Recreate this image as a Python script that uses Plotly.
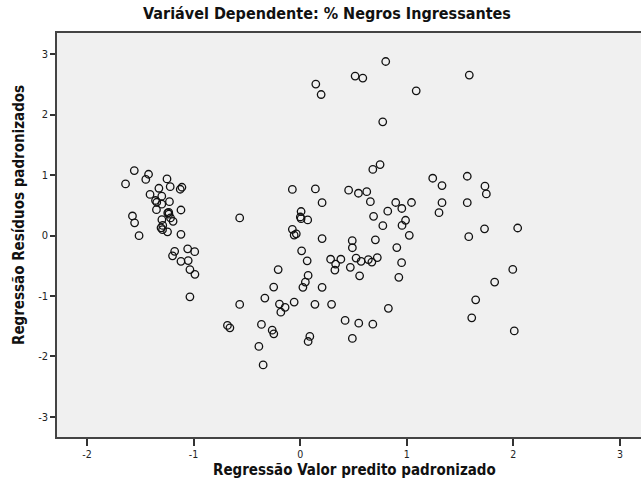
import plotly.graph_objects as go

# Standardized predicted value (x) and standardized residual (y)
predito = [
    -1.556, -1.638, -1.422, -1.448, -1.249, -1.219, -1.109, -1.125, -1.325, -1.408,
    -1.298, -1.357, -1.345, -1.226, -1.298, -1.348, -1.233, -1.231, -1.242, -1.118,
    -1.573, -1.553, -1.297, -1.216, -1.192, -1.289, -1.305, -1.291, -1.244, -1.511,
    -1.118, -1.177, -1.197, -1.055, -0.989, -1.118, -1.050, -1.034, -0.987, -1.034,
    -0.567, -0.567, -0.682, -0.659, -0.363, -0.262, -0.247, -0.387, -0.347, -0.331,
    -0.206, -0.248, -0.194, -0.141, -0.181, -0.056, 0.091, 0.075, 0.139, 0.295,
    -0.073, 0.143, 0.206, 0.009, 0.002, 0.009, 0.071, -0.073, -0.056, -0.036,
    0.206, 0.014, 0.066, 0.075, 0.049, 0.026, 0.206, 0.286, 0.333, 0.326,
    0.382, 0.471, 0.489, 0.490, 0.525, 0.572, 0.640, 0.673, 0.724, 0.558,
    0.706, 0.455, 0.547, 0.625, 0.659, 0.689, 0.776, 0.822, 0.897, 0.954,
    1.045, 0.989, 0.956, 1.024, 0.907, 0.952, 0.926, 0.828, 0.422, 0.550,
    0.682, 0.490, 0.147, 0.197, 0.516, 0.588, 0.803, 1.089, 0.775, 0.750,
    0.682, 1.587, 1.244, 1.331, 1.568, 1.734, 1.747, 1.331, 1.568, 1.303,
    1.730, 1.582, 2.041, 1.995, 1.825, 1.647, 1.610, 2.009,
]
residuo = [
    1.073, 0.853, 1.013, 0.927, 0.935, 0.808, 0.798, 0.765, 0.781, 0.679,
    0.651, 0.579, 0.550, 0.560, 0.518, 0.427, 0.384, 0.353, 0.373, 0.422,
    0.323, 0.210, 0.262, 0.290, 0.235, 0.166, 0.127, 0.096, 0.061, -0.003,
    0.020, -0.262, -0.336, -0.220, -0.268, -0.427, -0.414, -0.563, -0.642, -1.013,
    0.290, -1.139, -1.487, -1.526, -1.470, -1.565, -1.626, -1.834, -2.139, -1.035,
    -0.563, -0.853, -1.134, -1.187, -1.267, -1.101, -1.669, -1.752, -1.137, -1.137,
    0.762, 0.770, 0.543, 0.397, 0.306, 0.278, 0.257, 0.103, 0.008, 0.028,
    -0.050, -0.253, -0.419, -0.659, -0.770, -0.856, -0.856, -0.392, -0.472, -0.571,
    -0.392, -0.526, -0.086, -0.202, -0.373, -0.427, -0.397, -0.439, -0.364, -0.667,
    -0.071, 0.750, 0.699, 0.725, 0.560, 0.318, 0.162, 0.402, 0.546, 0.447,
    0.546, 0.252, 0.166, 0.003, -0.200, -0.449, -0.692, -1.204, -1.404, -1.449,
    -1.465, -1.702, 2.503, 2.331, 2.636, 2.603, 2.877, 2.392, 1.879, 1.172,
    1.093, 2.652, 0.947, 0.825, 0.980, 0.815, 0.687, 0.543, 0.543, 0.377,
    0.111, -0.020, 0.124, -0.560, -0.770, -1.063, -1.361, -1.578,
]

x_ticks = [-2, -1, 0, 1, 2, 3]
y_ticks = [-3, -2, -1, 0, 1, 2, 3]

titulo = "Variável Dependente: % Negros Ingressantes"
titulo_x = "Regressão Valor predito padronizado"
titulo_y = "Regressão Resíduos padronizados"

FONT = "DejaVu Sans Condensed, Liberation Sans Narrow, sans-serif"

fig = go.Figure()
fig.add_trace(go.Scatter(
    x=predito, y=residuo, mode="markers",
    marker=dict(symbol="circle-open", size=7.5, color="#111111",
                line=dict(width=1.3, color="#111111")),
    showlegend=False, hoverinfo="x+y",
))

W, H = 641, 482
L, T, B, R = 57, 33, 45, 0

fig.update_layout(
    width=W, height=H,
    margin=dict(l=L, r=R, t=T, b=B),
    paper_bgcolor="white",
    plot_bgcolor="#f0f0f0",
    font=dict(family=FONT, color="#222222"),
    title=dict(text="<b>" + titulo + "</b>", x=327 / W, xref="container", xanchor="center",
               y=1 - 13 / H, yref="container", yanchor="middle",
               font=dict(size=16, family=FONT, color="#111111")),
)
fig.update_xaxes(
    range=[-2.281, 3.198], tickvals=x_ticks, ticktext=[str(v) for v in x_ticks],
    showgrid=False, zeroline=False,
    showline=True, linecolor="#444444", linewidth=1.5, mirror=True,
    ticks="outside", ticklen=7, tickwidth=1.5, tickcolor="#333333",
    tickfont=dict(size=10.5, family=FONT, color="#222222"),
)
fig.update_yaxes(
    range=[-3.331, 3.348], tickvals=y_ticks, ticktext=[str(v) for v in y_ticks],
    showgrid=False, zeroline=False,
    showline=True, linecolor="#444444", linewidth=1.5, mirror=False,
    ticks="outside", ticklen=5, tickwidth=1.5, tickcolor="#333333",
    tickfont=dict(size=11, family=FONT, color="#222222"),
)

fig.add_annotation(text="<b>" + titulo_x + "</b>", xref="paper", yref="paper",
                   x=(354 - L) / (W - L - R), y=-(470 - (H - B)) / (H - T - B),
                   xanchor="center", yanchor="middle", showarrow=False,
                   font=dict(size=15, family=FONT, color="#111111"))
fig.add_annotation(text="<b>" + titulo_y + "</b>", xref="paper", yref="paper",
                   x=-(L - 19) / (W - L - R), y=(H - B - 215) / (H - T - B),
                   xanchor="center", yanchor="middle", textangle=-90, showarrow=False,
                   font=dict(size=15, family=FONT, color="#111111"))

fig.write_html("out.html", config={"displayModeBar": False},
               post_script="document.body.style.margin='0';")
